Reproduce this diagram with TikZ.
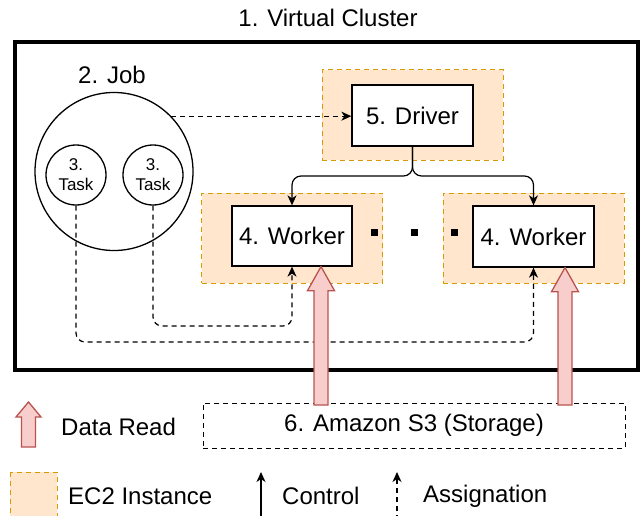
\documentclass[tikz,border=0pt]{standalone}
\usepackage{fontspec}
\setmainfont{Liberation Sans}
\usetikzlibrary{arrows.meta,calc}
\definecolor{ec2fill}{HTML}{FFE6CC}
\definecolor{ec2line}{HTML}{D79B00}
\definecolor{readfill}{HTML}{F8CECC}
\definecolor{readline}{HTML}{B85450}
\begin{document}
\begin{tikzpicture}[x=1pt,y=-1pt,
  big/.style={font=\fontsize{24}{28}\selectfont},
  small/.style={font=\fontsize{17}{20}\selectfont},
  ec2/.style={draw=ec2line, fill=ec2fill, line width=1pt, dash pattern=on 5pt off 4pt,
    minimum width=181pt, minimum height=90pt, inner sep=0pt},
  box/.style={draw, fill=white, line width=1.3pt, minimum width=121pt,
    minimum height=61pt, inner sep=0pt, big},
  circ/.style={draw, circle, line width=1.3pt, inner sep=0pt},
  tipped/.style={-{Stealth[length=10pt,width=9pt,inset=3pt]}},
  ctrl/.style={tipped, line width=1.2pt, rounded corners=9pt},
  assign/.style={tipped, line width=1.2pt, dash pattern=on 5pt off 4pt, rounded corners=9pt},
  read/.style={draw=readline, fill=readfill, line width=1.3pt, line join=miter},
  dot/.style={fill=black, minimum size=7pt, inner sep=0pt},
  legendtext/.style={big, anchor=west, inner sep=0pt},
]
\clip (0,0) rectangle (642,516);

% cluster frame and title
\node[big] (title) at (328,18) {1. Virtual Cluster};
\draw[line width=4pt] (15,42) rectangle (638,370);

% job with its tasks
\node[big] (joblabel) at (112,75) {2. Job};
\node[circ, minimum size=158pt] (job) at (114,171.5) {};
\node[circ, minimum size=60pt, small, align=center] (task1) at (76,175) {3.\\Task};
\node[circ, minimum size=60pt, small, align=center] (task2) at (153,175) {3.\\Task};

% EC2 instances
\node[ec2] (ec2d) at (412.5,115) {};
\node[ec2] (ec2a) at (292,238) {};
\node[ec2, minimum width=181pt] (ec2b) at (533.5,238) {};

% driver and workers
\node[box] (driver) at (412.5,115.5) {5. Driver};
\node[box, minimum width=120pt, minimum height=60pt] (worker1) at (292,236) {4. Worker};
\node[box] (worker2) at (533.5,236.5) {4. Worker};

\node[dot] (d1) at (374,232) {};
\node[dot] (d2) at (414,232) {};
\node[dot] (d3) at (454,232) {};

% storage
\node[draw, dashed, dash pattern=on 5pt off 4pt, line width=1pt, minimum width=422pt,
  minimum height=45pt, inner sep=0pt, big] (s3) at (414,425.5) {6. Amazon S3 (Storage)};

% control from the driver
\coordinate (fork) at (0,176);
\draw[ctrl] (driver.south) |- (worker1.north |- fork) -- (worker1.north);
\draw[ctrl] (driver.south) |- (worker2.north |- fork) -- (worker2.north);

% assignation
\draw[assign] (job.44) -- (job.44 -| driver.west);
\coordinate (busA) at (0,342);
\coordinate (busB) at (0,326);
\draw[assign] (task1.south) |- (worker2.south |- busA) -- (worker2.south);
\draw[assign] (task2.south) |- (worker1.south |- busB) -- (worker1.south);

% data reads from storage
\coordinate (rd1) at (321,405);
\coordinate (rd2) at (565,405);
\draw[read] let \p1=(rd1), \p2=(worker1.south) in
  (\x1-7pt,\y1) -- (\x1-7pt,\y2-24pt) -- (\x1-13.5pt,\y2-24pt) -- (\x1,\y2)
  -- (\x1+13.5pt,\y2-24pt) -- (\x1+7pt,\y2-24pt) -- (\x1+7pt,\y1) -- cycle;
\draw[read] let \p1=(rd2), \p2=(worker2.south) in
  (\x1-7pt,\y1) -- (\x1-7pt,\y2-24pt) -- (\x1-13.5pt,\y2-24pt) -- (\x1,\y2)
  -- (\x1+13.5pt,\y2-24pt) -- (\x1+7pt,\y2-24pt) -- (\x1+7pt,\y1) -- cycle;

% legend
\coordinate (lrb) at (28.5,447);
\coordinate (lrt) at (28.5,402);
\draw[read] let \p1=(lrb), \p2=(lrt) in
  (\x1-7pt,\y1) -- (\x1-7pt,\y2-15pt) -- (\x1-12.5pt,\y2-15pt) -- (\x1,\y2)
  -- (\x1+12.5pt,\y2-15pt) -- (\x1+7pt,\y2-15pt) -- (\x1+7pt,\y1) -- cycle;
\node[legendtext] (lread) at (61,427) {Data Read};

\draw[draw=ec2line, fill=ec2fill, line width=1pt, dash pattern=on 5pt off 4pt]
  (10,472) rectangle (57,530);
\node[legendtext] (lec2) at (68,496) {EC2 Instance};

\coordinate (lcb) at (261,520);
\coordinate (lct) at (261,472);
\draw[tipped, line width=1.2pt] (lcb) -- (lct);
\node[legendtext] (lctrl) at (282,496) {Control};

\coordinate (lab) at (397,520);
\coordinate (lat) at (397,472);
\draw[tipped, line width=1.2pt, dash pattern=on 5pt off 4pt] (lab) -- (lat);
\node[legendtext] (lassign) at (423,496) {Assignation};
\end{tikzpicture}
\end{document}
